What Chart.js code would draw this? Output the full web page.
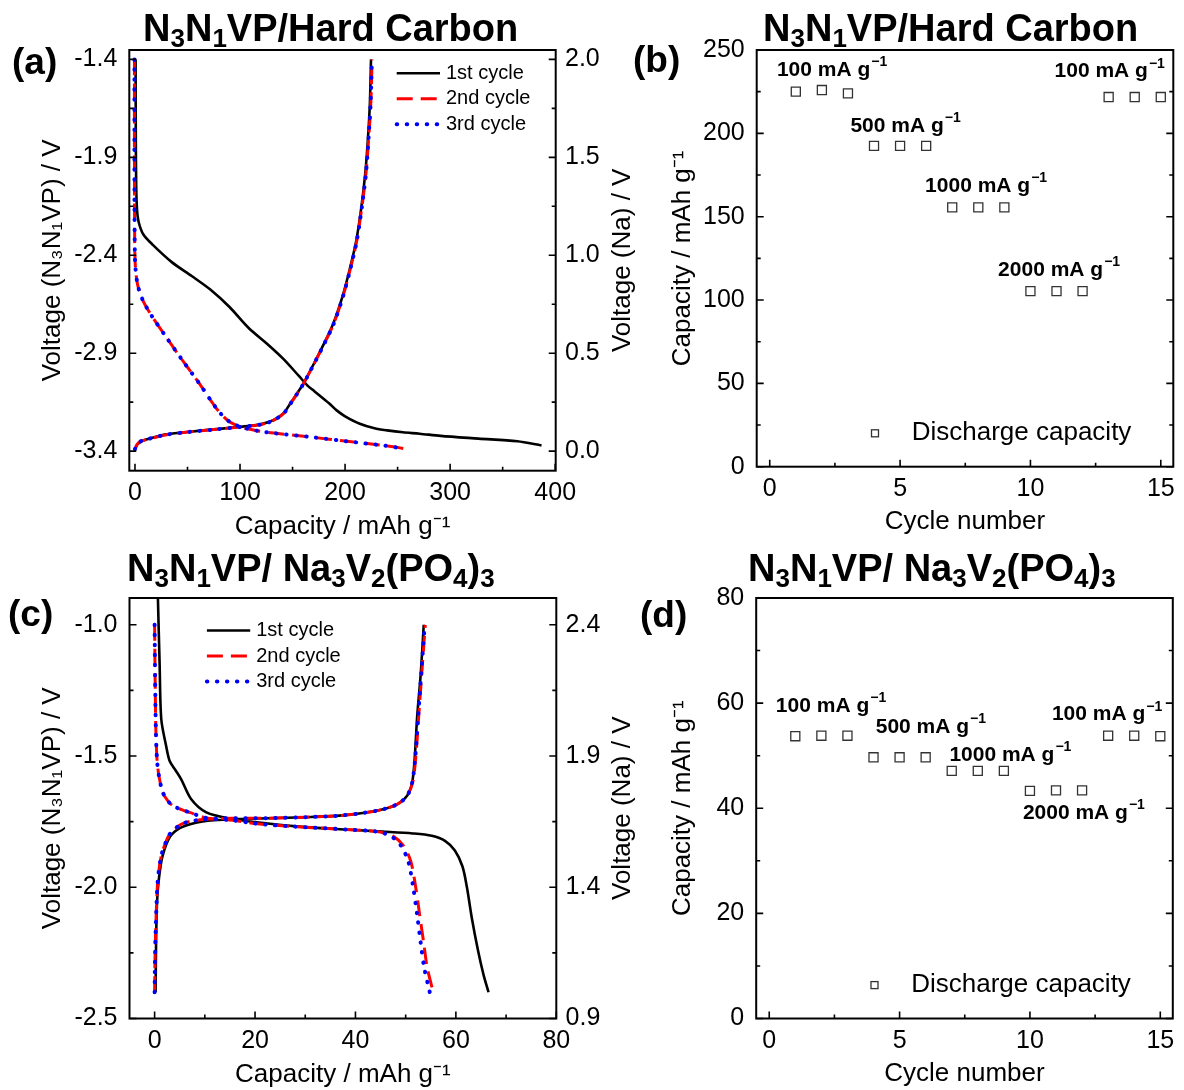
<!DOCTYPE html>
<html>
<head>
<meta charset="utf-8">
<script src="https://cdn.jsdelivr.net/npm/chart.js@4.4.1/dist/chart.umd.min.js"></script>
<style>
  html, body { margin: 0; padding: 0; background: #fff; }
  #page { position: relative; width: 1184px; height: 1090px; overflow: hidden;
          font-family: 'Liberation Sans', Arial, sans-serif; color: #000; }
  #page canvas { position: absolute; left: 0; top: 0; }
  .title { position: absolute; font-weight: bold; font-size: 38px; line-height: 38px; white-space: nowrap; }
  .title sub { font-size: 26px; line-height: 0; vertical-align: -0.22em; }
  .tag { position: absolute; font-weight: bold; font-size: 37px; line-height: 37px; }
</style>
</head>
<body>
<div id="page">
  <canvas id="chartA" width="1184" height="1090"></canvas>
  <canvas id="chartB" width="1184" height="1090"></canvas>
  <canvas id="chartC" width="1184" height="1090"></canvas>
  <canvas id="chartD" width="1184" height="1090"></canvas>

  <div class="title" style="left:143px; top:9px">N<sub>3</sub>N<sub>1</sub>VP/Hard Carbon</div>
  <div class="title" style="left:763px; top:9px">N<sub>3</sub>N<sub>1</sub>VP/Hard Carbon</div>
  <div class="title" style="left:127px; top:549px">N<sub>3</sub>N<sub>1</sub>VP/ Na<sub>3</sub>V<sub>2</sub>(PO<sub>4</sub>)<sub>3</sub></div>
  <div class="title" style="left:748px; top:549px">N<sub>3</sub>N<sub>1</sub>VP/ Na<sub>3</sub>V<sub>2</sub>(PO<sub>4</sub>)<sub>3</sub></div>

  <div class="tag" style="left:12px; top:43px">(a)</div>
  <div class="tag" style="left:633px; top:41px">(b)</div>
  <div class="tag" style="left:8px; top:595px">(c)</div>
  <div class="tag" style="left:640px; top:596px">(d)</div>
</div>

<script>
// ---- (a) N3N1VP / hard carbon: [capacity mAh g-1, cell voltage V] ----
const hcCharge1 = [[0.5,-3.39],[2,-3.368],[6,-3.35],[14,-3.335],[30,-3.314],[50,-3.302],[75,-3.289],[100,-3.276],[118,-3.264],[128,-3.25],[135,-3.232],[142,-3.203],[148,-3.156],[154,-3.108],[160,-3.058],[167,-2.988],[178,-2.872],[188.5,-2.752],[197.5,-2.611],[204.5,-2.47],[210.5,-2.33],[215.5,-2.154],[219.3,-1.977],[221.8,-1.8],[223.6,-1.625],[224.7,-1.4]];
const hcDischarge1 = [[0.6,-1.4],[0.8,-1.8],[1.2,-2.05],[2,-2.17],[3.5,-2.23],[8,-2.294],[17,-2.347],[35,-2.435],[54,-2.506],[72,-2.576],[90,-2.664],[108,-2.77],[127,-2.858],[141,-2.928],[156,-3.016],[164,-3.064],[171,-3.095],[185,-3.157],[192,-3.192],[200,-3.222],[214,-3.26],[228,-3.283],[240,-3.294],[255,-3.304],[271,-3.311],[291,-3.322],[327,-3.336],[364,-3.35],[387,-3.371]];
const hcCharge2 = [[0,-3.392],[1.5,-3.37],[5,-3.352],[14,-3.337],[30,-3.316],[50,-3.303],[75,-3.29],[100,-3.277],[119,-3.265],[128,-3.252],[135,-3.234],[142,-3.205],[148,-3.158],[154,-3.11],[160,-3.06],[167,-2.99],[178,-2.875],[189,-2.752],[198,-2.611],[205,-2.47],[211,-2.33],[216,-2.154],[220,-1.977],[222.5,-1.8],[224.5,-1.625],[225.7,-1.4]];
const hcDischarge2 = [[-0.5,-1.4],[-0.5,-1.9],[-0.3,-2.3],[0.3,-2.45],[2.5,-2.55],[7.5,-2.63],[16,-2.71],[30,-2.82],[47,-2.95],[62,-3.06],[72,-3.14],[81,-3.205],[90,-3.25],[100,-3.275],[115,-3.295],[132,-3.308],[167,-3.328],[202,-3.35],[236,-3.371],[250,-3.381],[262,-3.393]];
const hcCharge3 = [[0,-3.39],[1.5,-3.369],[5,-3.351],[14,-3.336],[30,-3.316],[50,-3.303],[75,-3.29],[100,-3.277],[119,-3.265],[128,-3.252],[135,-3.234],[142,-3.205],[148,-3.158],[154,-3.11],[160,-3.06],[167,-2.99],[178,-2.875],[189,-2.752],[198,-2.611],[205,-2.47],[211,-2.33],[216,-2.154],[220,-1.977],[222.4,-1.8],[224.3,-1.625],[225.5,-1.4]];
const hcDischarge3 = [[-0.5,-1.4],[-0.5,-1.9],[-0.3,-2.3],[0.3,-2.45],[2.5,-2.55],[7.5,-2.63],[16,-2.71],[30,-2.82],[47,-2.95],[62,-3.06],[72,-3.14],[81,-3.205],[90,-3.25],[100,-3.275],[115,-3.295],[132,-3.308],[167,-3.328],[202,-3.35],[236,-3.371],[244,-3.376],[252.5,-3.386]];

// ---- (c) N3N1VP / Na3V2(PO4)3 ----
const nvpCharge1 = [[0.2,-2.4],[0.3,-2.2],[0.5,-2.05],[0.9,-1.96],[1.6,-1.88],[3,-1.81],[5,-1.775],[8,-1.755],[11.8,-1.745],[16.4,-1.74],[22.5,-1.737],[30.1,-1.733],[36.2,-1.728],[41.5,-1.717],[45.3,-1.704],[48.4,-1.683],[50.3,-1.651],[51.3,-1.6],[51.8,-1.507],[52.3,-1.347],[53,-1.187],[53.6,-1.0]];
const nvpDischarge1 = [[0.66,-0.9],[1,-1.15],[1.33,-1.36],[2.3,-1.462],[3,-1.519],[4.2,-1.555],[5.3,-1.589],[7.3,-1.665],[10.3,-1.715],[14.9,-1.738],[22.5,-1.757],[30,-1.771],[37.7,-1.78],[45.3,-1.788],[51.4,-1.795],[55.2,-1.804],[57.9,-1.824],[59.8,-1.86],[61.3,-1.92],[62.2,-2],[63.2,-2.12],[64.4,-2.24],[65.5,-2.333],[66.5,-2.4]];
const nvpCharge2 = [[0,-2.4],[0.1,-2.25],[0.33,-2.095],[0.66,-1.968],[1.33,-1.88],[2.2,-1.83],[3,-1.798],[5.3,-1.76],[8.3,-1.745],[13,-1.738],[16.4,-1.737],[22.5,-1.737],[30.1,-1.733],[36.2,-1.728],[41.5,-1.717],[45.3,-1.704],[48.4,-1.683],[50.3,-1.651],[51.4,-1.6],[52,-1.507],[52.6,-1.347],[53.2,-1.187],[53.9,-1.0]];
const nvpDischarge2 = [[0,-1.0],[0.1,-1.2],[0.25,-1.4],[0.5,-1.52],[0.9,-1.58],[1.66,-1.64],[2.6,-1.67],[3.65,-1.69],[5.5,-1.705],[7,-1.715],[10.3,-1.736],[15.6,-1.745],[20,-1.757],[24,-1.764],[31.6,-1.773],[39.2,-1.781],[44.6,-1.789],[47.6,-1.807],[49.5,-1.84],[51,-1.9],[52,-2.0],[52.8,-2.107],[53.6,-2.213],[54.3,-2.307],[55.5,-2.4]];
const nvpCharge3 = [[0,-2.4],[0.1,-2.25],[0.33,-2.095],[0.66,-1.968],[1.33,-1.88],[2.2,-1.83],[3,-1.798],[5.3,-1.76],[8.3,-1.745],[13,-1.738],[16.4,-1.737],[22.5,-1.737],[30.1,-1.733],[36.2,-1.728],[41.5,-1.717],[45.3,-1.704],[48.4,-1.683],[50.3,-1.651],[51.3,-1.6],[51.9,-1.507],[52.5,-1.347],[53.1,-1.187],[53.8,-1.0]];
const nvpDischarge3 = [[0,-1.0],[0.1,-1.2],[0.25,-1.4],[0.5,-1.52],[0.9,-1.58],[1.66,-1.64],[2.6,-1.67],[3.65,-1.69],[5.5,-1.705],[7,-1.715],[10.3,-1.736],[15.6,-1.745],[20,-1.757],[24,-1.764],[31.6,-1.773],[39.2,-1.781],[44.6,-1.789],[47.2,-1.807],[49,-1.84],[50.5,-1.9],[51.5,-2.0],[52.3,-2.107],[53,-2.213],[53.7,-2.307],[54.8,-2.4]];

// ---- (b), (d) rate capability ----
const cycles = [1,2,3,4,5,6,7,8,9,10,11,12,13,14,15];
const hcRateCapacity = [225.0,226.0,224.0,192.5,192.5,192.5,155.6,155.6,155.6,105.3,105.3,105.3,221.8,221.8,221.8];
const nvpRateCapacity = [53.7,53.8,53.8,49.7,49.7,49.7,47.1,47.1,47.1,43.3,43.4,43.4,53.8,53.8,53.7];

// current density labels and their anchors (cycle, capacity)
const rateLabels = ['100 mA g', '500 mA g', '1000 mA g', '2000 mA g', '100 mA g'];
const hcRateLabelAt = [[2.39,237.7],[5.21,204.2],[8.3,168.3],[11.1,118.0],[13.04,237.0]];
const nvpRateLabelAt = [[2.37,59.4],[6.2,55.4],[9.25,50.1],[12.07,39.0],[12.96,57.8]];

// ---- tick labels ----
const hcCapTicks = [0, 100, 200, 300, 400];
const hcCellTicks = [-3.4, -2.9, -2.4, -1.9, -1.4];
const hcNaTicks = [0, 0.5, 1.0, 1.5, 2.0];
const nvpCapTicks = [0, 20, 40, 60, 80];
const nvpCellTicks = [-2.5, -2.0, -1.5, -1.0];
const nvpNaTicks = [0.9, 1.4, 1.9, 2.4];
const cycleTicks = [0, 5, 10, 15];
const hcRateTicks = [0, 50, 100, 150, 200, 250];
const nvpRateTicks = [0, 20, 40, 60, 80];

const cycleNames = ['1st cycle', '2nd cycle', '3rd cycle'];

Chart.defaults.font.family = "'Liberation Sans', Arial, sans-serif";
Chart.defaults.color = '#000';

const FONT_TICK = { size: 25 };
const FONT_AXIS = { size: 26 };

// joins the charge and discharge branches of one cycle, with a gap between them
function branches(charge, discharge) {
  const pts = charge.map(([x, y]) => ({ x, y }));
  pts.push({ x: charge[charge.length - 1][0], y: null });
  return pts.concat(discharge.map(([x, y]) => ({ x, y })));
}

function fixedTicks(values) {
  return scale => { scale.ticks = values.map(v => ({ value: v })); };
}

// inward major + minor tick marks on one side of the frame
function inwardTicks(ctx, scale, side, a) {
  const major = scale.ticks.map(t => t.value);
  const half = (major[1] - major[0]) / 2;
  const minor = major.map(v => v + half).concat([major[0] - half]);
  const marks = major.map(v => [v, 7]).concat(minor.map(v => [v, 4]));
  const eps = 1e-9;
  ctx.beginPath();
  for (const [v, len] of marks) {
    if (v < scale.min - eps || v > scale.max + eps) continue;
    const p = scale.getPixelForValue(v);
    if (side === 'bottom') { ctx.moveTo(p, a.bottom); ctx.lineTo(p, a.bottom - len); }
    else if (side === 'left') { ctx.moveTo(a.left, p); ctx.lineTo(a.left + len, p); }
    else { ctx.moveTo(a.right, p); ctx.lineTo(a.right - len, p); }
  }
  ctx.stroke();
}

// frame, inward ticks, in-plot legend, rate labels, right axis title
const panelDecor = {
  id: 'panelDecor',
  afterDraw(chart, args, o) {
    const { ctx, chartArea: a, scales } = chart;
    ctx.save();
    ctx.strokeStyle = '#000';
    ctx.fillStyle = '#000';
    ctx.lineWidth = 1.6;
    inwardTicks(ctx, scales.x, 'bottom', a);
    inwardTicks(ctx, scales.y, 'left', a);
    if (scales.y2) inwardTicks(ctx, scales.y2, 'right', a);
    else if (o.mirror) inwardTicks(ctx, scales.y, 'right', a);
    ctx.lineWidth = 2;
    ctx.strokeRect(a.left, a.top, a.width, a.height);

    const lg = o.legend;
    if (lg) {
      ctx.textBaseline = 'middle';
      ctx.textAlign = 'left';
      ctx.font = lg.size + "px 'Liberation Sans', Arial, sans-serif";
      chart.data.datasets.forEach((ds, i) => {
        const y = a.top + lg.top + i * (lg.row || 0);
        const x0 = a.left + lg.left;
        ctx.save();
        ctx.lineWidth = ds.borderWidth;
        ctx.strokeStyle = ds.borderColor;
        if (lg.marker) {
          ctx.strokeRect(x0 - lg.marker / 2, y - lg.marker / 2, lg.marker, lg.marker);
        } else {
          ctx.lineCap = ds.borderCapStyle || 'butt';
          ctx.setLineDash(ds.borderDash || []);
          ctx.beginPath();
          ctx.moveTo(x0, y);
          ctx.lineTo(x0 + lg.length, y);
          ctx.stroke();
        }
        ctx.restore();
        ctx.fillText(ds.label, a.left + lg.textLeft, y);
      });
    }

    const nt = o.notes;
    if (nt) {
      const base = "bold 21px 'Liberation Sans', Arial, sans-serif";
      const sup = "bold 14px 'Liberation Sans', Arial, sans-serif";
      ctx.textBaseline = 'middle';
      ctx.textAlign = 'left';
      nt.labels.forEach((txt, i) => {
        const cx = scales.x.getPixelForValue(nt.at[i][0]);
        const cy = scales.y.getPixelForValue(nt.at[i][1]);
        ctx.font = base; const w1 = ctx.measureText(txt).width;
        ctx.font = sup; const w2 = ctx.measureText('\u22121').width;
        const x0 = cx - (w1 + 1 + w2) / 2;
        ctx.font = base; ctx.fillText(txt, x0, cy);
        ctx.font = sup; ctx.fillText('\u22121', x0 + w1 + 1, cy - 8);
      });
    }

    const rt = o.rightTitle;
    if (rt) {
      ctx.save();
      ctx.font = FONT_AXIS.size + "px 'Liberation Sans', Arial, sans-serif";
      ctx.textAlign = 'center';
      ctx.textBaseline = 'middle';
      ctx.translate(rt.x, (a.top + a.bottom) / 2);
      ctx.rotate(-Math.PI / 2);
      ctx.fillText(rt.text, 0, 0);
      ctx.restore();
    }
    ctx.restore();
  }
};

const W = 1184, H = 1090;

function xAxis(min, max, ticks, title, height, fmt) {
  return {
    type: 'linear', position: 'bottom', min, max,
    afterBuildTicks: fixedTicks(ticks),
    afterFit: s => { s.height = height; },
    ticks: { font: FONT_TICK, padding: 7.5, autoSkip: false, maxRotation: 0, callback: fmt },
    grid: { display: false, drawTicks: false },
    border: { display: false },
    title: { display: true, text: title, font: FONT_AXIS, padding: { top: 0, bottom: 0 } }
  };
}

function yAxis(min, max, ticks, title, width, titlePad, fmt) {
  return {
    type: 'linear', position: 'left', min, max,
    afterBuildTicks: fixedTicks(ticks),
    afterFit: s => { s.width = width; },
    ticks: { font: FONT_TICK, padding: 12, autoSkip: false, callback: fmt },
    grid: { display: false, drawTicks: false },
    border: { display: false },
    title: { display: true, text: title, font: FONT_AXIS, padding: { top: titlePad, bottom: 0 } }
  };
}

function naAxis(min, max, ticks) {
  return {
    type: 'linear', position: 'right', min, max,
    afterBuildTicks: fixedTicks(ticks),
    afterFit: s => { s.width = 50; },
    ticks: { font: FONT_TICK, padding: 9.3, autoSkip: false, callback: v => v.toFixed(1) },
    grid: { display: false, drawTicks: false },
    border: { display: false }
  };
}

function cycleSets(c1, c2, c3) {
  return [
    { label: cycleNames[0], data: c1, borderColor: '#000000', borderWidth: 2.6, order: 3 },
    { label: cycleNames[1], data: c2, borderColor: '#ff0000', borderWidth: 3, borderDash: [16, 8], order: 2 },
    { label: cycleNames[2], data: c3, borderColor: '#0000ff', borderWidth: 4, borderDash: [0.5, 9.5], borderCapStyle: 'round', order: 1 }
  ];
}

function voltageChart(id, box, sets, x, y, y2, legendTop, legendLeft) {
  return new Chart(document.getElementById(id), {
    type: 'line',
    data: { datasets: sets },
    options: {
      responsive: false, animation: false, events: [],
      elements: { point: { radius: 0 }, line: { tension: 0.3, fill: false } },
      layout: { padding: { left: 0, top: box.top, right: W - box.right - 50, bottom: H - box.bottom - 71.5 } },
      plugins: {
        legend: { display: false }, tooltip: { enabled: false },
        panelDecor: {
          legend: { left: legendLeft, textLeft: legendLeft + 49.3, top: legendTop, row: 25.5, length: 43.3, size: 20 },
          rightTitle: { text: 'Voltage (Na) / V', x: 623 }
        }
      },
      scales: { x, y, y2 }
    },
    plugins: [panelDecor]
  });
}

function rateChart(id, box, values, yMin, yMax, ticks, at) {
  const xh = 71;
  return new Chart(document.getElementById(id), {
    type: 'scatter',
    data: { datasets: [{
      label: 'Discharge capacity',
      data: cycles.map((c, i) => ({ x: c, y: values[i] })),
      pointStyle: 'rect', pointRadius: 6.4, borderColor: '#333333', borderWidth: 1.3,
      backgroundColor: 'rgba(0,0,0,0)'
    }] },
    options: {
      responsive: false, animation: false, events: [],
      layout: { padding: { left: 640, top: box.top, right: W - box.right, bottom: H - box.bottom - xh } },
      plugins: {
        legend: { display: false }, tooltip: { enabled: false },
        panelDecor: {
          mirror: true,
          legend: { marker: 7, left: 118.3, textLeft: 155, top: box.bottom - box.top - 33.4, size: 26 },
          notes: { labels: rateLabels, at }
        }
      },
      scales: {
        x: xAxis(-0.5, 15.48, cycleTicks, 'Cycle number', xh, v => String(v)),
        y: yAxis(yMin, yMax, ticks, 'Capacity / mAh g\u207B\u00B9', box.left - 640, 27, v => String(v))
      }
    },
    plugins: [panelDecor]
  });
}

const boxA = { left: 129.3, top: 50, right: 555.7, bottom: 470.7 };
const boxB = { left: 756.7, top: 50, right: 1173.3, bottom: 466.7 };
const boxC = { left: 129.5, top: 598, right: 556.3, bottom: 1018.5 };
const boxD = { left: 756.2, top: 598, right: 1172.8, bottom: 1018.5 };

const yTitle = 'Voltage (N\u2083N\u2081VP) / V';
const capTitle = 'Capacity / mAh g\u207B\u00B9';

voltageChart('chartA', boxA,
  cycleSets(branches(hcCharge1, hcDischarge1), branches(hcCharge2, hcDischarge2), branches(hcCharge3, hcDischarge3)),
  xAxis(-5.4, 400.5, hcCapTicks, capTitle, 71.5, v => String(v)),
  yAxis(-3.5, -1.352, hcCellTicks, yTitle, boxA.left, 37, v => v.toFixed(1)),
  naAxis(-0.1, 2.048, hcNaTicks), 23.3, 267.4);

voltageChart('chartC', boxC,
  cycleSets(branches(nvpCharge1, nvpDischarge1), branches(nvpCharge2, nvpDischarge2), branches(nvpCharge3, nvpDischarge3)),
  xAxis(-5, 80, nvpCapTicks, capTitle, 71.5, v => String(v)),
  yAxis(-2.5, -0.898, nvpCellTicks, yTitle, boxC.left, 37, v => v.toFixed(1)),
  naAxis(0.9, 2.502, nvpNaTicks), 32.5, 77.4);

rateChart('chartB', boxB, hcRateCapacity, 0, 250, hcRateTicks, hcRateLabelAt);
rateChart('chartD', boxD, nvpRateCapacity, 0, 80, nvpRateTicks, nvpRateLabelAt);
</script>
</body>
</html>
